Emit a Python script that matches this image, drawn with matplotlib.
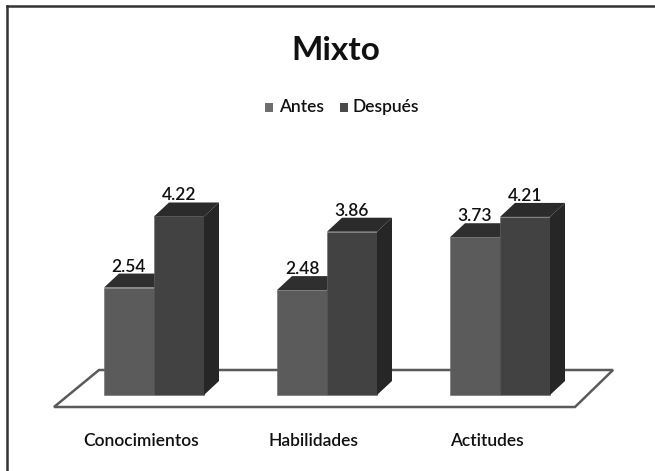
import matplotlib
matplotlib.use("Agg")
import matplotlib.pyplot as plt
from matplotlib.patches import Polygon, Rectangle
from matplotlib.lines import Line2D
import numpy as np

plt.rcParams['font.family'] = ['Lato', 'DejaVu Sans']

title = "Mixto"
categories = ["Conocimientos", "Habilidades", "Actitudes"]
series_names = ["Antes", "Después"]
antes = [2.54, 2.48, 3.73]
despues = [4.22, 3.86, 4.21]

W, H = 655, 471
fig = plt.figure(figsize=(W / 100, H / 100), dpi=100)
ax = fig.add_axes([0, 0, 1, 1])

# pixel-based scaling for the axes (layout)
px_per_x = 173.0
x0_px = 154.0
px_per_v = 42.3
v0_px_from_bottom = 76.0
ax.set_xlim(-x0_px / px_per_x, (W - x0_px) / px_per_x)
ax.set_ylim(-v0_px_from_bottom / px_per_v, (H - v0_px_from_bottom) / px_per_v)
ax.axis('off')

bar_w = 50 / px_per_x
ddx = 15 / px_per_x
ddy = 14 / px_per_v

def px2d(xp, yp):
    return ((xp - x0_px) / px_per_x, ((H - yp) - v0_px_from_bottom) / px_per_v)

# floor
floor = Polygon([px2d(54, 407), px2d(99, 370), px2d(613, 370), px2d(575, 407)],
                closed=True, facecolor='white', edgecolor='#5a5a5a', lw=1.8, zorder=1)
ax.add_patch(floor)

front_cols = ['#5b5b5b', '#424242']
top_cols = ['#2f2f2f', '#2b2b2b']
side_cols = ['#2a2a2a', '#262626']

WEIGHT = 'semibold'
x = np.arange(len(categories))
z = 2
for i in range(len(categories)):
    for s, vals in enumerate([antes, despues]):
        v = vals[i]
        left = x[i] - bar_w + s * bar_w
        right = left + bar_w
        ax.bar(left, v, width=bar_w, align='edge', color=front_cols[s],
               edgecolor='#6a6a6a', lw=0.4, zorder=z)
        top = Polygon([(left, v), (left + ddx, v + ddy), (right + ddx, v + ddy), (right, v)],
                      closed=True, facecolor=top_cols[s], edgecolor='none', zorder=z)
        side = Polygon([(right, 0), (right, v), (right + ddx, v + ddy), (right + ddx, ddy)],
                       closed=True, facecolor=side_cols[s], edgecolor='none', zorder=z)
        ax.add_patch(top)
        ax.add_patch(side)
        ax.text((left + right) / 2, v + ddy + 2 / px_per_v, f"{v:.2f}",
                ha='center', va='baseline', fontsize=12.5, fontweight=WEIGHT,
                color='#111111', zorder=10)
        z += 1

# category labels
lab_v = (395 - 446) / px_per_v
for i, c in enumerate(categories):
    ax.text(x[i] - 13 / px_per_x, lab_v, c, ha='center', va='baseline',
            fontsize=12.5, fontweight=WEIGHT, color='#111111')

# title
fig.text(336 / W, 1 - 60 / H, title, ha='center', va='baseline',
         fontsize=24, fontweight='bold', color='#111111')

# legend
leg_cols = ['#6e6e6e', '#4a4a4a']
leg_sq_x = [265, 340]
leg_tx_x = [279, 353]
base_y = 112
for s in range(2):
    fig.patches.append(Rectangle((leg_sq_x[s] / W, 1 - (base_y) / H), 8 / W, 9 / H,
                                 transform=fig.transFigure, facecolor=leg_cols[s],
                                 edgecolor='none'))
    fig.text(leg_tx_x[s] / W, 1 - base_y / H, series_names[s], ha='left', va='baseline',
             fontsize=12.5, fontweight=WEIGHT, color='#111111')

# frame (left and top)
fig.add_artist(Line2D([7 / W, 7 / W], [0, 1 - 6 / H], transform=fig.transFigure,
                      color='#333333', lw=1.8))
fig.add_artist(Line2D([7 / W, 1], [1 - 6 / H, 1 - 6 / H], transform=fig.transFigure,
                      color='#333333', lw=1.8))

fig.savefig("out.png", dpi=100, facecolor='white')
